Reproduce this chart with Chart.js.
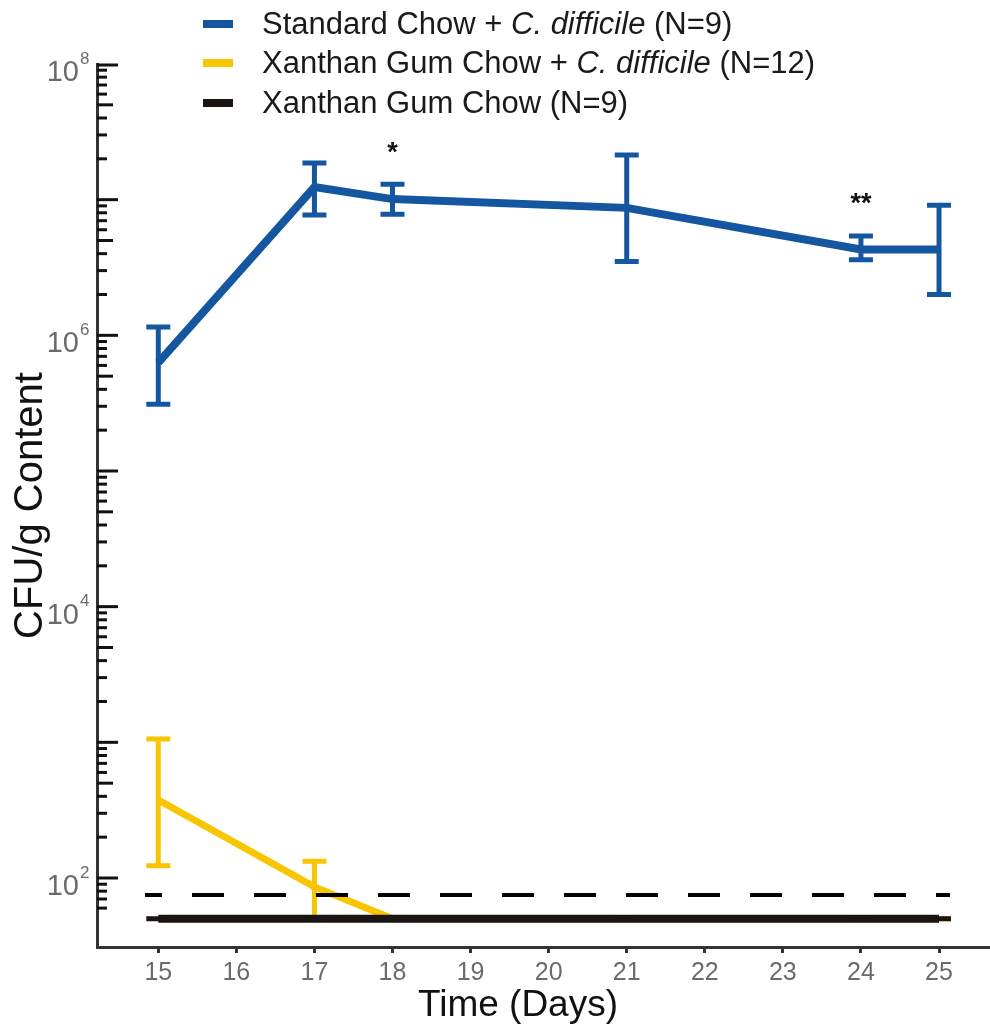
<!DOCTYPE html>
<html>
<head>
<meta charset="utf-8">
<script src="https://cdn.jsdelivr.net/npm/chart.js@4.4.1/dist/chart.umd.min.js"></script>
<style>
  body { margin: 0; background: #fff; }
  #wrap { position: relative; width: 990px; height: 1030px; }
  #legend { position: absolute; left: 203px; top: 4px; font-family: "Liberation Sans", Arial, sans-serif; font-size: 31px; color: #1a1a1a; }
  #legend .row { display: flex; align-items: center; height: 39.5px; white-space: nowrap; }
  #legend .sw { width: 30px; height: 8px; margin-right: 29px; }
  #xtitle { position: absolute; left: 0; width: 1036px; top: 983px; text-align: center; font-family: "Liberation Sans", Arial, sans-serif; font-size: 37px; color: #111; }
</style>
</head>
<body>
<div id="wrap">
  <canvas id="chart" width="990" height="1030"></canvas>
  <div id="legend"></div>
  <div id="xtitle">Time (Days)</div>
</div>
<script>
// days sampled
const days = [15, 17, 18, 21, 24, 25]
const xTicks = [15, 16, 17, 18, 19, 20, 21, 22, 23, 24, 25]

// Standard Chow + C. difficile
const stdMean  = [6.3e5, 1.24e7, 1.01e7, 8.7e6, 4.3e6, 4.3e6]
const stdUpper = [1.15e6, 1.86e7, 1.30e7, 2.13e7, 5.4e6, 9.1e6]
const stdLower = [3.1e5, 7.7e6, 7.8e6, 3.5e6, 3.6e6, 2.0e6]

// Xanthan Gum Chow + C. difficile
const xgCdMean  = [376, 86, 50, 50, 50, 50]
const xgCdUpper = [1060, 133, 50, 50, 50, 50]
const xgCdLower = [123, 50, 50, 50, 50, 50]

// Xanthan Gum Chow
const xgMean  = [50, 50, 50, 50, 50, 50]
const xgUpper = [50, 50, 50, 50, 50, 50]
const xgLower = [50, 50, 50, 50, 50, 50]

// limit of detection (dashed)
const lodDays = [14.83, 25.14]
const lodValue = 75

// significance marks
const sigDays = [18, 24]
const sigMarks = ['*', '**']

// labelled decades
const yLabelExp = [2, 4, 6, 8]

const BLUE = '#1556a0'
const YELLOW = '#f8c600'
const BLACK = '#1a1412'
const FONT = '"Liberation Sans", Arial, sans-serif'

const legendItems = [
    {color: BLUE, html: 'Standard Chow + <i>C. difficile</i> (N=9)'},
    {color: YELLOW, html: 'Xanthan Gum Chow + <i>C. difficile</i> (N=12)'},
    {color: BLACK, html: 'Xanthan Gum Chow (N=9)'}
]
document.getElementById('legend').innerHTML = legendItems.map(item =>
    `<div class="row"><span class="sw" style="background:${item.color}"></span><span>${item.html}</span></div>`
).join('')

function toPoints(xs, ys) {
    return xs.map((x, i) => ({x: x, y: ys[i]}))
}

// draws error bars right after each dataset, so stacking order is kept
const errorBars = {
    id: 'errorBars',
    afterDatasetDraw(chart, args) {
        const ds = chart.data.datasets[args.index]
        if (!ds.errUpper) return
        const ctx = chart.ctx
        const xs = chart.scales.x, ys = chart.scales.y
        ctx.save()
        ctx.strokeStyle = ds.borderColor
        ctx.lineWidth = 5
        ctx.lineCap = 'butt'
        ds.data.forEach((p, i) => {
            const px = xs.getPixelForValue(p.x)
            const top = ys.getPixelForValue(ds.errUpper[i])
            const bot = ys.getPixelForValue(ds.errLower[i])
            ctx.beginPath()
            ctx.moveTo(px, top); ctx.lineTo(px, bot)
            ctx.moveTo(px - 12, top); ctx.lineTo(px + 12, top)
            ctx.moveTo(px - 12, bot); ctx.lineTo(px + 12, bot)
            ctx.stroke()
        })
        ctx.restore()
    }
}

// inward log ticks, 10^n labels and the asterisks
const axisDecor = {
    id: 'axisDecor',
    afterDraw(chart) {
        const ctx = chart.ctx
        const ys = chart.scales.y, xs = chart.scales.x
        const left = chart.chartArea.left
        ctx.save()
        ctx.strokeStyle = '#111'
        ctx.lineWidth = 3
        for (let e = 1; e <= 7; e++) {
            for (let s = 1; s <= 9; s++) {
                const v = s * Math.pow(10, e)
                if (v < 60 || v > 1e8) continue
                const py = ys.getPixelForValue(v)
                const len = s === 1 ? 21 : (s === 5 ? 16 : 10)
                ctx.beginPath()
                ctx.moveTo(left, py); ctx.lineTo(left + len, py)
                ctx.stroke()
            }
        }
        const pTop = ys.getPixelForValue(1e8)
        ctx.beginPath(); ctx.moveTo(left, pTop + 1); ctx.lineTo(left + 21, pTop + 1); ctx.stroke()

        ctx.fillStyle = '#6b6b6b'
        ctx.textBaseline = 'middle'
        yLabelExp.forEach(exp => {
            const py = ys.getPixelForValue(Math.pow(10, exp))
            ctx.font = `29px ${FONT}`
            ctx.textAlign = 'right'
            ctx.fillText('10', 79, py + 9)
            ctx.font = `17px ${FONT}`
            ctx.textAlign = 'left'
            ctx.fillText(String(exp), 80, py - 5)
        })

        ctx.fillStyle = '#111'
        ctx.textAlign = 'center'
        ctx.font = `bold 27px ${FONT}`
        sigDays.forEach((d, i) => {
            const idx = days.indexOf(d)
            const px = xs.getPixelForValue(d)
            const py = ys.getPixelForValue(stdUpper[idx]) - 31
            ctx.fillText(sigMarks[i], px, py)
        })
        ctx.restore()
    }
}

const ctx = document.getElementById('chart')
new Chart(ctx, {
    type: 'line',
    data: {
        datasets: [
            {
                label: 'Standard Chow + C. difficile (N=9)',
                data: toPoints(days, stdMean),
                errUpper: stdUpper, errLower: stdLower,
                borderColor: BLUE, borderWidth: 8, pointRadius: 0
            },
            {
                label: 'Xanthan Gum Chow (N=9)',
                data: toPoints(days, xgMean),
                errUpper: xgUpper, errLower: xgLower,
                borderColor: BLACK, borderWidth: 8, pointRadius: 0
            },
            {
                label: 'LOD',
                data: toPoints(lodDays, [lodValue, lodValue]),
                borderColor: '#000', borderWidth: 4, pointRadius: 0,
                borderDash: [32, 30], borderDashOffset: 15
            },
            {
                label: 'Xanthan Gum Chow + C. difficile (N=12)',
                data: toPoints(days, xgCdMean),
                errUpper: xgCdUpper, errLower: xgCdLower,
                borderColor: YELLOW, borderWidth: 7, pointRadius: 0
            }
        ]
    },
    options: {
        responsive: false,
        animation: false,
        layout: {padding: {top: 64, right: 0, left: 0, bottom: 0}},
        plugins: {legend: {display: false}, tooltip: {enabled: false}},
        scales: {
            x: {
                type: 'linear',
                min: 14.215,
                max: 25.653,
                afterBuildTicks: scale => { scale.ticks = xTicks.map(v => ({value: v})) },
                afterFit: scale => { scale.height = 83 },
                ticks: {
                    color: '#6b6b6b',
                    font: {family: FONT, size: 25},
                    padding: 5,
                    maxRotation: 0,
                    autoSkip: false
                },
                grid: {drawOnChartArea: false, drawTicks: true, tickLength: 6, color: '#333', lineWidth: 3},
                border: {display: true, color: '#333', width: 3}
            },
            y: {
                type: 'logarithmic',
                min: 31,
                max: 1e8,
                afterFit: scale => { scale.width = 97 },
                ticks: {display: false},
                grid: {drawOnChartArea: false, drawTicks: false},
                border: {display: true, color: '#333', width: 3},
                title: {
                    display: true,
                    text: 'CFU/g Content',
                    color: '#111',
                    font: {family: FONT, size: 40},
                    padding: {top: 7, bottom: 0}
                }
            }
        }
    },
    plugins: [errorBars, axisDecor]
})
</script>
</body>
</html>
